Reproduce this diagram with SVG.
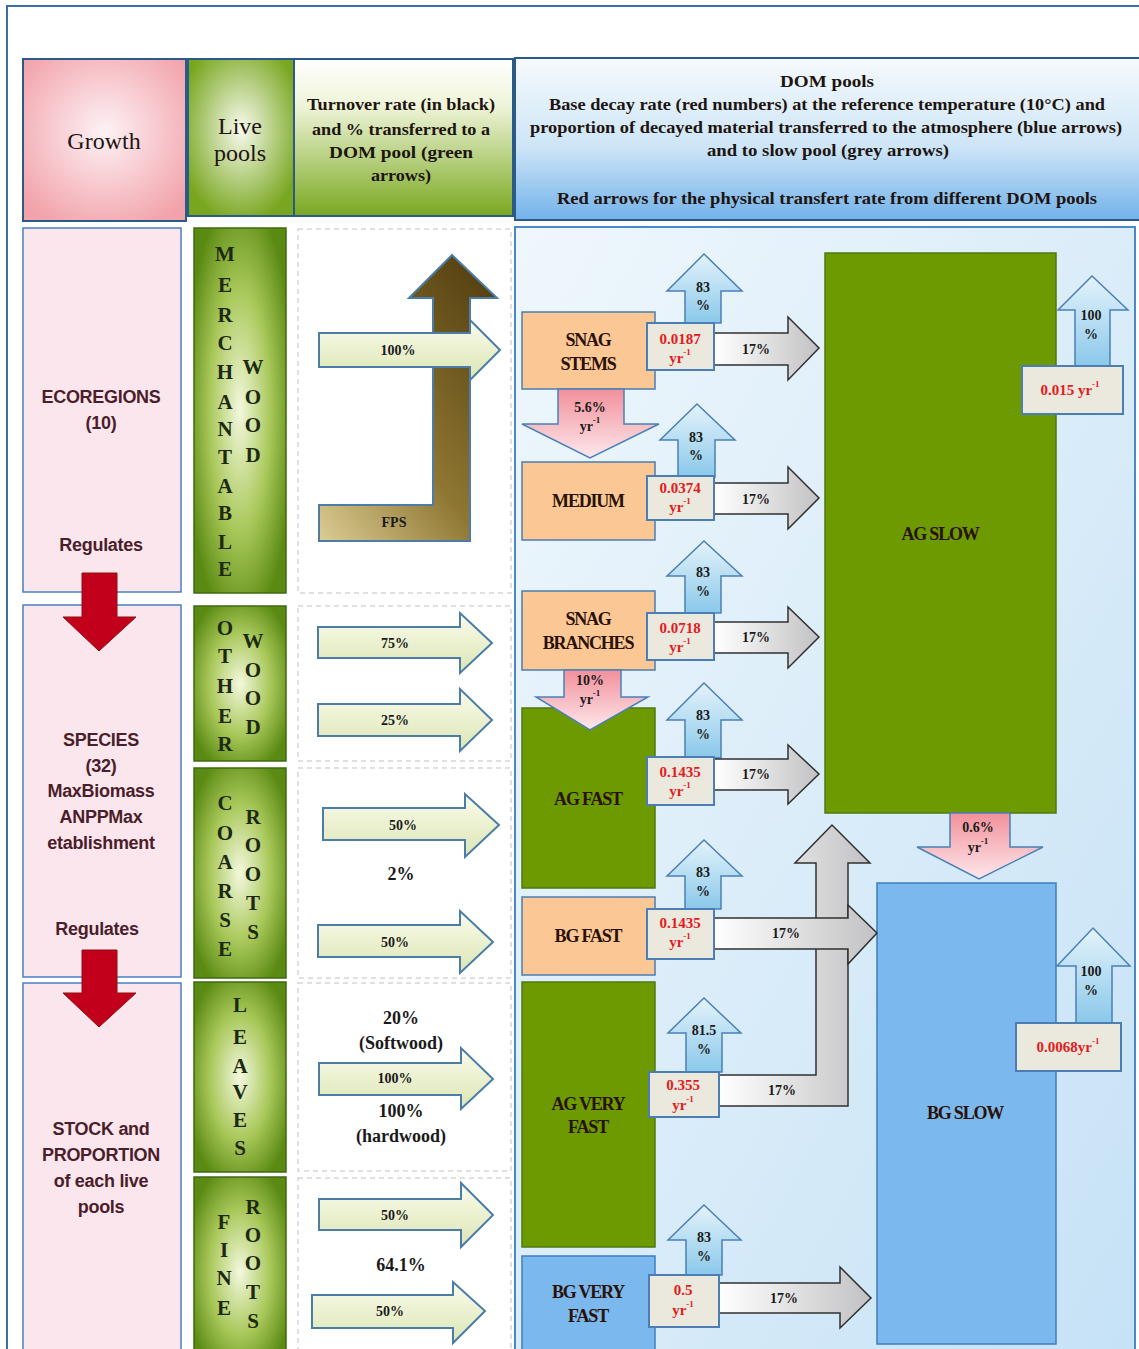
<svg xmlns="http://www.w3.org/2000/svg" width="1139" height="1349" viewBox="0 0 1139 1349">
<defs>
<radialGradient id="gPink" cx="0.5" cy="0.45" r="0.65"><stop offset="0" stop-color="#fdf2f5"/><stop offset="1" stop-color="#f2a2aa"/></radialGradient>
<radialGradient id="gLiveH" cx="0.5" cy="0.45" r="0.6"><stop offset="0" stop-color="#f8faee"/><stop offset="1" stop-color="#78a61e"/></radialGradient>
<radialGradient id="gLive" cx="0.5" cy="0.5" r="0.6"><stop offset="0" stop-color="#f3f8de"/><stop offset="0.55" stop-color="#a9c85a"/><stop offset="1" stop-color="#5a8a12"/></radialGradient>
<linearGradient id="gTurn" x1="0" y1="0" x2="0" y2="1"><stop offset="0" stop-color="#ffffff"/><stop offset="0.3" stop-color="#eef4d8"/><stop offset="1" stop-color="#7aa820"/></linearGradient>
<linearGradient id="gDomHdr" x1="0" y1="0" x2="0" y2="1"><stop offset="0" stop-color="#f6fafd"/><stop offset="0.55" stop-color="#cde5f7"/><stop offset="1" stop-color="#72b2ea"/></linearGradient>
<linearGradient id="gDom" x1="0" y1="0" x2="1" y2="1"><stop offset="0" stop-color="#eff7fc"/><stop offset="1" stop-color="#c6e2f6"/></linearGradient>
<linearGradient id="gLight" x1="0" y1="0" x2="0" y2="1"><stop offset="0" stop-color="#fbfcec"/><stop offset="1" stop-color="#dbe5b4"/></linearGradient>
<linearGradient id="gBrown" x1="0" y1="1" x2="0.8" y2="0"><stop offset="0" stop-color="#dccd94"/><stop offset="0.45" stop-color="#8e7632"/><stop offset="1" stop-color="#574212"/></linearGradient>
<linearGradient id="gBlue" x1="0" y1="0" x2="0" y2="1"><stop offset="0" stop-color="#e4f3fb"/><stop offset="1" stop-color="#8ac8ea"/></linearGradient>
<linearGradient id="gGray" x1="0" y1="0" x2="1" y2="0"><stop offset="0" stop-color="#ffffff"/><stop offset="1" stop-color="#c2c2c4"/></linearGradient>
<linearGradient id="gPinkA" x1="0" y1="0" x2="0" y2="1"><stop offset="0" stop-color="#f2909a"/><stop offset="1" stop-color="#fde8ec"/></linearGradient>
<style>
.hdr{font-family:"Liberation Serif",serif;fill:#1e1410;text-anchor:middle;dominant-baseline:central}
.hb{font-weight:bold}
.lft{font-family:"Liberation Sans",sans-serif;font-weight:bold;font-size:18px;letter-spacing:-0.3px;fill:#4a1e2a;text-anchor:middle;dominant-baseline:central}
.ltr{font-family:"Liberation Serif",serif;font-weight:bold;font-size:21px;fill:#1e2a10;text-anchor:middle;dominant-baseline:central}
.pct{font-family:"Liberation Serif",serif;font-weight:bold;font-size:14px;fill:#1a1a1a;text-anchor:middle;dominant-baseline:central}
.big{font-family:"Liberation Serif",serif;font-weight:bold;font-size:18px;fill:#1a1a1a;text-anchor:middle;dominant-baseline:central}
.node{font-family:"Liberation Serif",serif;font-weight:bold;font-size:18px;fill:#2a1208;letter-spacing:-1.2px;text-anchor:middle;dominant-baseline:central}
.rate{font-family:"Liberation Serif",serif;font-weight:bold;font-size:15px;fill:#e41b1b;text-anchor:middle;dominant-baseline:central}
.hbox{stroke:#2a5a8a;stroke-width:2}
.pbox{fill:#fce6ee;stroke:#4a80c0;stroke-width:1.5}
.lbox{fill:url(#gLive);stroke:#3f6a12;stroke-width:1.5}
.sect{fill:#ffffff;stroke:#d6d6d6;stroke-width:1.5;stroke-dasharray:5 4}
.orange{fill:#fbc794;stroke:#4a7eb4;stroke-width:1.5}
.green{fill:#6c9a00;stroke:#4d7a10;stroke-width:1.5}
.blue{fill:#7ab8ee;stroke:#3f7ec0;stroke-width:1.5}
.rbox{fill:#ebe8de;stroke:#4a7eb4;stroke-width:2}
.la{fill:url(#gLight);stroke:#4a7ea8;stroke-width:2}
.ba{fill:url(#gBlue);stroke:#4a80b8;stroke-width:1.5}
.ga{fill:url(#gGray);stroke:#303030;stroke-width:1.5}
.pa{fill:url(#gPinkA);stroke:#4a80b8;stroke-width:1.5}
.ra{fill:#c2001c;stroke:#8a1010;stroke-width:1}
</style>
</defs>
<rect width="1139" height="1349" fill="#ffffff"/>
<rect x="7" y="6" width="1140" height="1350" fill="none" stroke="#3b6ea5" stroke-width="2"/>

<g id="header">
<g id="h-growth"><rect class="hbox" x="23" y="59" width="163" height="162" fill="url(#gPink)"/><text class="hdr" x="104" y="141" font-size="24">Growth</text></g>
<g id="h-live"><rect class="hbox" x="188" y="59" width="106" height="157" fill="url(#gLiveH)"/><text class="hdr" x="240" y="126" font-size="24">Live</text><text class="hdr" x="240" y="153" font-size="24">pools</text></g>
<g id="h-turnover"><rect class="hbox" x="294" y="59" width="219" height="157" fill="url(#gTurn)"/>
<text class="hdr hb" x="401" y="104" font-size="16" textLength="188" lengthAdjust="spacingAndGlyphs">Turnover rate (in black)</text>
<text class="hdr hb" x="401" y="129" font-size="16" textLength="178" lengthAdjust="spacingAndGlyphs">and % transferred to a</text>
<text class="hdr hb" x="401" y="152" font-size="16" textLength="144" lengthAdjust="spacingAndGlyphs">DOM pool (green</text>
<text class="hdr hb" x="401" y="175" font-size="16" textLength="60" lengthAdjust="spacingAndGlyphs">arrows)</text></g>
<g id="h-dom"><rect class="hbox" x="515" y="58" width="630" height="162" fill="url(#gDomHdr)" stroke="#3a7ab8"/>
<text class="hdr hb" x="827" y="81" font-size="17" textLength="94" lengthAdjust="spacingAndGlyphs">DOM pools</text>
<text class="hdr hb" x="827" y="104" font-size="17" textLength="556" lengthAdjust="spacingAndGlyphs">Base decay rate (red numbers) at the reference temperature (10°C) and</text>
<text class="hdr hb" x="826" y="127" font-size="17" textLength="592" lengthAdjust="spacingAndGlyphs">proportion of decayed material transferred to the atmosphere (blue arrows)</text>
<text class="hdr hb" x="828" y="150" font-size="17" textLength="242" lengthAdjust="spacingAndGlyphs">and to slow pool (grey arrows)</text>
<text class="hdr hb" x="827" y="198" font-size="17" textLength="540" lengthAdjust="spacingAndGlyphs">Red arrows for the physical transfert rate from different  DOM pools</text></g>
</g>

<g id="growth-column">
<g id="ecoregions"><rect class="pbox" x="23" y="228" width="158" height="364"/><text class="lft" x="101" y="397">ECOREGIONS</text><text class="lft" x="101" y="423">(10)</text><text class="lft" x="101" y="545">Regulates</text></g>
<g id="species"><rect class="pbox" x="23" y="605" width="158" height="372"/><text class="lft" x="101" y="740">SPECIES</text><text class="lft" x="101" y="766">(32)</text><text class="lft" x="101" y="791">MaxBiomass</text><text class="lft" x="101" y="817">ANPPMax</text><text class="lft" x="101" y="843">etablishment</text><text class="lft" x="97" y="929">Regulates</text></g>
<g id="stock"><rect class="pbox" x="23" y="983" width="158" height="380"/><text class="lft" x="101" y="1129">STOCK and</text><text class="lft" x="101" y="1155">PROPORTION</text><text class="lft" x="101" y="1181">of each live</text><text class="lft" x="101" y="1207">pools</text></g>
</g>

<g id="live-pools">
<g id="merchantable-wood"><rect class="lbox" x="194" y="228" width="92" height="365"/>
<text class="ltr" x="225" y="254">M</text><text class="ltr" x="225" y="285">E</text><text class="ltr" x="225" y="315">R</text><text class="ltr" x="225" y="343">C</text><text class="ltr" x="225" y="372">H</text><text class="ltr" x="225" y="402">A</text><text class="ltr" x="225" y="429">N</text><text class="ltr" x="225" y="457">T</text><text class="ltr" x="225" y="486">A</text><text class="ltr" x="225" y="513">B</text><text class="ltr" x="225" y="542">L</text><text class="ltr" x="225" y="569">E</text>
<text class="ltr" x="253" y="367">W</text><text class="ltr" x="253" y="397">O</text><text class="ltr" x="253" y="425">O</text><text class="ltr" x="253" y="455">D</text></g>
<g id="other-wood"><rect class="lbox" x="194" y="606" width="92" height="155"/>
<text class="ltr" x="225" y="628">O</text><text class="ltr" x="225" y="656">T</text><text class="ltr" x="225" y="686">H</text><text class="ltr" x="225" y="716">E</text><text class="ltr" x="225" y="744">R</text>
<text class="ltr" x="253" y="641">W</text><text class="ltr" x="253" y="670">O</text><text class="ltr" x="253" y="698">O</text><text class="ltr" x="253" y="727">D</text></g>
<g id="coarse-roots"><rect class="lbox" x="194" y="768" width="92" height="210"/>
<text class="ltr" x="225" y="803">C</text><text class="ltr" x="225" y="833">O</text><text class="ltr" x="225" y="862">A</text><text class="ltr" x="225" y="891">R</text><text class="ltr" x="225" y="920">S</text><text class="ltr" x="225" y="949">E</text>
<text class="ltr" x="253" y="817">R</text><text class="ltr" x="253" y="845">O</text><text class="ltr" x="253" y="874">O</text><text class="ltr" x="253" y="903">T</text><text class="ltr" x="253" y="932">S</text></g>
<g id="leaves"><rect class="lbox" x="194" y="982" width="92" height="190"/>
<text class="ltr" x="240" y="1005">L</text><text class="ltr" x="240" y="1037">E</text><text class="ltr" x="240" y="1066">A</text><text class="ltr" x="240" y="1092">V</text><text class="ltr" x="240" y="1120">E</text><text class="ltr" x="240" y="1148">S</text></g>
<g id="fine-roots"><rect class="lbox" x="194" y="1177" width="92" height="190"/>
<text class="ltr" x="224" y="1222">F</text><text class="ltr" x="224" y="1250">I</text><text class="ltr" x="224" y="1278">N</text><text class="ltr" x="224" y="1308">E</text>
<text class="ltr" x="253" y="1207">R</text><text class="ltr" x="253" y="1235">O</text><text class="ltr" x="253" y="1263">O</text><text class="ltr" x="253" y="1292">T</text><text class="ltr" x="253" y="1321">S</text></g>
</g>

<g id="turnover-sections">
<rect class="sect" x="298" y="229" width="213" height="364"/>
<rect class="sect" x="298" y="606" width="213" height="155"/>
<rect class="sect" x="298" y="768" width="213" height="210"/>
<rect class="sect" x="298" y="983" width="213" height="188"/>
<rect class="sect" x="298" y="1178" width="213" height="180"/>
<text class="big" x="401" y="874">2%</text>
<text class="big" x="401" y="1018">20%</text>
<text class="big" x="401" y="1043">(Softwood)</text>
<text class="big" x="401" y="1111">100%</text>
<text class="big" x="401" y="1136">(hardwood)</text>
<text class="big" x="401" y="1265">64.1%</text>
</g>

<g id="dom-area"><rect x="515" y="227" width="620" height="1130" fill="url(#gDom)" stroke="#4a88c8" stroke-width="2"/></g>

<g id="dom-pools">
<g id="snag-stems"><rect class="orange" x="522" y="312" width="133" height="77"/><text class="node" x="588" y="340">SNAG</text><text class="node" x="588" y="364">STEMS</text></g>
<g id="medium"><rect class="orange" x="522" y="462" width="133" height="78"/><text class="node" x="588" y="501">MEDIUM</text></g>
<g id="snag-branches"><rect class="orange" x="522" y="591" width="133" height="79"/><text class="node" x="588" y="619">SNAG</text><text class="node" x="588" y="643">BRANCHES</text></g>
<g id="ag-fast"><rect class="green" x="522" y="708" width="133" height="180"/><text class="node" x="588" y="799">AG FAST</text></g>
<g id="bg-fast"><rect class="orange" x="522" y="897" width="133" height="78"/><text class="node" x="588" y="936">BG FAST</text></g>
<g id="ag-very-fast"><rect class="green" x="522" y="982" width="133" height="265"/><text class="node" x="588" y="1104">AG VERY</text><text class="node" x="588" y="1127">FAST</text></g>
<g id="bg-very-fast"><rect class="blue" x="522" y="1256" width="133" height="100"/><text class="node" x="588" y="1292">BG VERY</text><text class="node" x="588" y="1316">FAST</text></g>
<g id="ag-slow"><rect class="green" x="825" y="253" width="231" height="560"/><text class="node" x="940" y="534">AG SLOW</text></g>
<g id="bg-slow"><rect class="blue" x="877" y="883" width="179" height="461"/><text class="node" x="965" y="1113">BG SLOW</text></g>
</g>

<g id="connectors">
<path class="ra" d="M82,573 L117,573 L117,617 L136,617 L99,651 L63,617 L82,617 Z"/>
<path class="ra" d="M82,950 L117,950 L117,993 L136,993 L99,1027 L63,993 L82,993 Z"/>
<path d="M319,505 L433,505 L433,298 L409,298 L452,255 L497,298 L470,298 L470,541 L319,541 Z" fill="url(#gBrown)" stroke="#4a7ea8" stroke-width="2"/>
<text class="pct" x="394" y="522">FPS</text>
<path class="la" d="M319,333 L470,333 L470,320 L500,350 L470,380 L470,367 L319,367 Z"/><text class="pct" x="398" y="350">100%</text>
<path class="la" d="M318,627 L460,627 L460,613 L492,643 L460,673 L460,658 L318,658 Z"/><text class="pct" x="395" y="643">75%</text>
<path class="la" d="M318,704 L460,704 L460,689 L492,720 L460,751 L460,736 L318,736 Z"/><text class="pct" x="395" y="720">25%</text>
<path class="la" d="M323,808 L465,808 L465,794 L499,825 L465,857 L465,840 L323,840 Z"/><text class="pct" x="403" y="825">50%</text>
<path class="la" d="M318,925 L460,925 L460,911 L493,942 L460,973 L460,957 L318,957 Z"/><text class="pct" x="395" y="942">50%</text>
<path class="la" d="M319,1063 L461,1063 L461,1048 L493,1079 L461,1109 L461,1095 L319,1095 Z"/><text class="pct" x="395" y="1078">100%</text>
<path class="la" d="M319,1199 L461,1199 L461,1183 L493,1215 L461,1247 L461,1230 L319,1230 Z"/><text class="pct" x="395" y="1215">50%</text>
<path class="la" d="M312,1295 L453,1295 L453,1282 L485,1311 L453,1343 L453,1328 L312,1328 Z"/><text class="pct" x="390" y="1311">50%</text>
<path class="ba" d="M685,323 L685,291 L667,291 L704,254 L742,291 L721,291 L721,323 Z"/><text class="pct" x="703" y="287">83</text><text class="pct" x="703" y="305">%</text>
<path class="ba" d="M678,477 L678,440 L660,440 L697,404 L735,440 L715,440 L715,477 Z"/><text class="pct" x="696" y="437">83</text><text class="pct" x="696" y="455">%</text>
<path class="ba" d="M685,613 L685,576 L667,576 L704,541 L742,576 L721,576 L721,613 Z"/><text class="pct" x="703" y="572">83</text><text class="pct" x="703" y="591">%</text>
<path class="ba" d="M685,758 L685,720 L667,720 L704,683 L742,720 L721,720 L721,758 Z"/><text class="pct" x="703" y="715">83</text><text class="pct" x="703" y="734">%</text>
<path class="ba" d="M685,909 L685,876 L667,876 L704,840 L742,876 L721,876 L721,909 Z"/><text class="pct" x="703" y="872">83</text><text class="pct" x="703" y="891">%</text>
<path class="ba" d="M686,1072 L686,1033 L668,1033 L704,998 L741,1033 L722,1033 L722,1072 Z"/><text class="pct" x="704" y="1030">81.5</text><text class="pct" x="704" y="1049">%</text>
<path class="ba" d="M686,1275 L686,1240 L668,1240 L704,1205 L741,1240 L722,1240 L722,1275 Z"/><text class="pct" x="704" y="1237">83</text><text class="pct" x="704" y="1256">%</text>
<path class="ba" d="M1075,367 L1075,310 L1058,310 L1092,276 L1128,310 L1110,310 L1110,367 Z"/><text class="pct" x="1091" y="315">100</text><text class="pct" x="1091" y="334">%</text>
<path class="ba" d="M1076,1023 L1076,966 L1057,966 L1093,928 L1130,966 L1112,966 L1112,1023 Z"/><text class="pct" x="1091" y="971">100</text><text class="pct" x="1091" y="990">%</text>
<path class="ga" d="M714,333 L788,333 L788,317 L819,348 L788,380 L788,365 L714,365 Z"/><text class="pct" x="756" y="349">17%</text>
<path class="ga" d="M714,483 L788,483 L788,467 L819,498 L788,529 L788,514 L714,514 Z"/><text class="pct" x="756" y="499">17%</text>
<path class="ga" d="M714,622 L788,622 L788,607 L819,637 L788,668 L788,653 L714,653 Z"/><text class="pct" x="756" y="637">17%</text>
<path class="ga" d="M714,759 L788,759 L788,745 L819,774 L788,804 L788,790 L714,790 Z"/><text class="pct" x="756" y="774">17%</text>
<path class="ga" d="M719,1075 L816,1075 L816,863 L795,863 L832,825 L870,863 L848,863 L848,1106 L719,1106 Z"/><text class="pct" x="782" y="1090">17%</text>
<path class="ga" d="M714,918 L848,918 L848,905 L877,933 L848,964 L848,949 L714,949 Z"/><text class="pct" x="786" y="933">17%</text>
<path class="ga" d="M719,1283 L840,1283 L840,1267 L871,1298 L840,1328 L840,1313 L719,1313 Z"/><text class="pct" x="784" y="1298">17%</text>
<path class="pa" d="M558,389 L624,389 L624,424 L659,424 L590,458 L522,424 L558,424 Z"/><text class="pct" x="590" y="407">5.6%</text><text class="pct" x="590" y="426">yr<tspan font-size="9" dy="-6">-1</tspan></text>
<path class="pa" d="M564,670 L621,670 L621,697 L648,697 L590,730 L536,697 L564,697 Z"/><text class="pct" x="590" y="680">10%</text><text class="pct" x="590" y="699">yr<tspan font-size="9" dy="-6">-1</tspan></text>
<path class="pa" d="M950,813 L1010,813 L1010,847 L1043,847 L979,879 L917,847 L950,847 Z"/><text class="pct" x="978" y="827">0.6%</text><text class="pct" x="978" y="847">yr<tspan font-size="9" dy="-6">-1</tspan></text>
</g>

<g id="decay-rates">
<g id="rate-snag-stems"><rect class="rbox" x="647" y="323" width="67" height="47"/><text class="rate" x="680" y="339">0.0187</text><text class="rate" x="680" y="358">yr<tspan font-size="9" dy="-6">-1</tspan></text></g>
<g id="rate-medium"><rect class="rbox" x="647" y="476" width="67" height="44"/><text class="rate" x="680" y="488">0.0374</text><text class="rate" x="680" y="507">yr<tspan font-size="9" dy="-6">-1</tspan></text></g>
<g id="rate-snag-branches"><rect class="rbox" x="647" y="613" width="67" height="47"/><text class="rate" x="680" y="628">0.0718</text><text class="rate" x="680" y="647">yr<tspan font-size="9" dy="-6">-1</tspan></text></g>
<g id="rate-ag-fast"><rect class="rbox" x="647" y="757" width="67" height="48"/><text class="rate" x="680" y="772">0.1435</text><text class="rate" x="680" y="791">yr<tspan font-size="9" dy="-6">-1</tspan></text></g>
<g id="rate-bg-fast"><rect class="rbox" x="647" y="909" width="67" height="50"/><text class="rate" x="680" y="923">0.1435</text><text class="rate" x="680" y="942">yr<tspan font-size="9" dy="-6">-1</tspan></text></g>
<g id="rate-ag-very-fast"><rect class="rbox" x="649" y="1072" width="70" height="45"/><text class="rate" x="683" y="1085">0.355</text><text class="rate" x="683" y="1105">yr<tspan font-size="9" dy="-6">-1</tspan></text></g>
<g id="rate-bg-very-fast"><rect class="rbox" x="649" y="1275" width="70" height="52"/><text class="rate" x="683" y="1290">0.5</text><text class="rate" x="683" y="1310">yr<tspan font-size="9" dy="-6">-1</tspan></text></g>
<g id="rate-ag-slow"><rect class="rbox" x="1022" y="366" width="101" height="48"/><text class="rate" x="1070" y="390">0.015 yr<tspan font-size="9" dy="-6">-1</tspan></text></g>
<g id="rate-bg-slow"><rect class="rbox" x="1016" y="1023" width="105" height="48"/><text class="rate" x="1068" y="1047">0.0068yr<tspan font-size="9" dy="-6">-1</tspan></text></g>
</g>
</svg>
